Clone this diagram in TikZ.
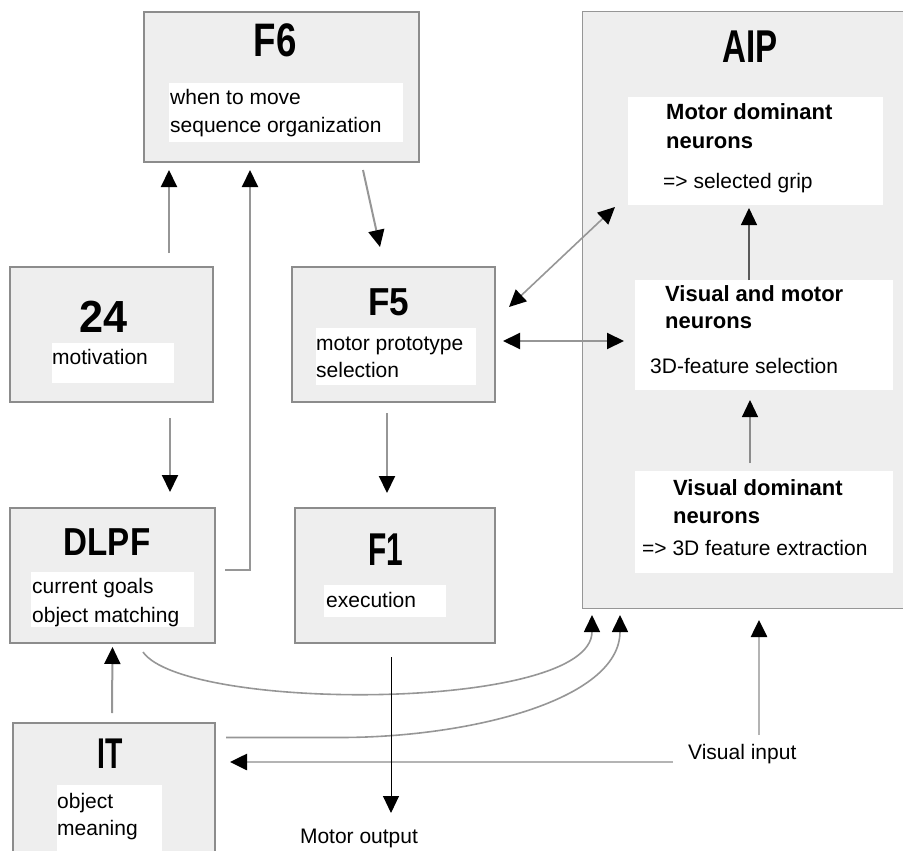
\documentclass[tikz,border=0pt]{standalone}
\usepackage{fontspec}
\setmainfont{Liberation Sans}
\usetikzlibrary{arrows.meta,calc}
\definecolor{boxfill}{RGB}{238,238,238}
\definecolor{boxline}{RGB}{140,140,140}
\definecolor{lineg}{RGB}{150,150,150}
\definecolor{lightg}{RGB}{180,180,180}
\newcommand{\ttl}[3]{\scalebox{#1}[1]{\fontsize{#2}{#2}\selectfont\bfseries #3}}
\begin{document}
\begin{tikzpicture}[x=1pt,y=-1pt,
  area/.style={draw=boxline,line width=2.5pt,fill=boxfill,inner sep=0,outer sep=0},
  aipbox/.style={draw=lineg,line width=1pt,fill=boxfill,inner sep=0,outer sep=0},
  whitebox/.style={fill=white,draw=none,inner sep=0,outer sep=0},
  txtbody/.style={anchor=base west,inner sep=0,font=\fontsize{21}{27}\selectfont},
  txtbold/.style={anchor=base west,inner sep=0,font=\fontsize{22}{28}\selectfont\bfseries},
  ttlpos/.style={anchor=base,inner sep=0},
  conn/.style={-{Triangle[width=16pt,length=17pt,color=black]},draw=lineg,line width=2pt},
  dblconn/.style={{Triangle[width=16pt,length=17pt,color=black]}-{Triangle[width=16pt,length=17pt,color=black]},draw=lineg,line width=2pt},
  innerconn/.style={-{Triangle[width=16pt,length=17pt,color=black]},draw=black!65,line width=1.2pt},
  curvec/.style={-{Triangle[width=16pt,length=17pt,color=black]},draw=lineg,line width=1.6pt},
  lightconn/.style={-{Triangle[width=16pt,length=17pt,color=black]},draw=lightg,line width=2.6pt},
  blackconn/.style={-{Triangle[width=16pt,length=17pt,color=black]},draw=black,line width=1pt}
]
\useasboundingbox (0,0) rectangle (903,851);

% main boxes
\node[aipbox,minimum width=328pt,minimum height=596pt] (aip) at (746,310) {};
\node[area,minimum width=275pt,minimum height=150pt] (f6) at (281.5,87) {};
\node[area,minimum width=203pt,minimum height=135pt] (m24) at (111.5,334.5) {};
\node[area,minimum width=203pt,minimum height=135pt] (f5) at (393.5,334.5) {};
\node[area,minimum width=205pt,minimum height=135pt] (dlpf) at (112.5,575.5) {};
\node[area,minimum width=200pt,minimum height=135pt] (f1) at (395,575.5) {};
\node[area,minimum width=202pt,minimum height=137pt] (it) at (114,791.5) {};

% white label areas
\node[whitebox,minimum width=234pt,minimum height=59pt] (f6w) at (286,112.5) {};
\node[whitebox,minimum width=122pt,minimum height=40pt] (m24w) at (113,363) {};
\node[whitebox,minimum width=160pt,minimum height=57pt] (f5w) at (396,356.5) {};
\node[whitebox,minimum width=163pt,minimum height=55pt] (dlpfw) at (112.5,599.5) {};
\node[whitebox,minimum width=105pt,minimum height=75pt] (itw) at (109.5,822.5) {};
\node[whitebox,minimum width=122pt,minimum height=32pt] (f1w) at (385,601) {};
\node[whitebox,minimum width=255pt,minimum height=108pt] (mdw) at (755.5,151) {};
\node[whitebox,minimum width=258pt,minimum height=110pt] (vmw) at (764,335) {};
\node[whitebox,minimum width=258pt,minimum height=102pt] (vdw) at (764,522) {};

% titles
\node[ttlpos] (f6t) at (275,57) {\ttl{0.78}{47}{F6}};
\node[ttlpos] (m24t) at (104,332) {\ttl{0.96}{45}{24}};
\node[ttlpos] (dlpft) at (107,555) {\ttl{0.85}{39}{DLPF}};
\node[ttlpos] (aipt) at (750,63) {\ttl{0.72}{46}{AIP}};
\node[ttlpos] (itt) at (110,768) {\ttl{0.66}{43}{IT}};
\node[ttlpos] (f5t) at (389,315) {\ttl{0.9}{39}{F5}};
\node[ttlpos] (f1t) at (386,565) {\ttl{0.65}{46}{F1}};

% body texts
\node[txtbody] (f6a) at (170,105) {when to move};
\node[txtbody] (f6b) at (170,132) {sequence organization};
\node[txtbody] (m24a) at (52,364) {motivation};
\node[txtbody] (f5a) at (316,350) {motor prototype};
\node[txtbody] (f5b) at (316,377) {selection};
\node[txtbody] (dlpfa) at (32,593) {current goals};
\node[txtbody] (dlpfb) at (32,622) {object matching};
\node[txtbody] (ita) at (57,808) {object};
\node[txtbody] (itb) at (57,835) {meaning};
\node[txtbody] (f1a) at (326,607) {execution};
\node[txtbold] (mda) at (666,120) {Motor dominant};
\node[txtbold] (mdb) at (666,148) {neurons};
\node[txtbody] (mdc) at (663,188) {=> selected grip};
\node[txtbold] (vma) at (665,301) {Visual and motor};
\node[txtbold] (vmb) at (665,328) {neurons};
\node[txtbody] (vmc) at (650,373) {3D-feature selection};
\node[txtbold] (vda) at (673,495) {Visual dominant};
\node[txtbold] (vdb) at (673,523) {neurons};
\node[txtbody] (vdc) at (642,555) {=> 3D feature extraction};
\node[anchor=base,inner sep=0,font=\fontsize{21}{27}\selectfont] (mout) at (359,843) {Motor output};
\node[txtbody] (vin) at (688,759) {Visual input};

% free ends
\coordinate (vinup) at (759,735);
\coordinate (vinleft) at (673,762);
\coordinate (motout) at (391,813);

% connectors
\draw[conn] ([yshift=14pt,xshift=57.5pt]m24.north) -- ([shift={(-112.5pt,-8pt)}]f6.south);
\draw[conn] ([shift={(10pt,5.5pt)}]dlpf.east) -| ([shift={(-31.5pt,-8pt)}]f6.south);
\draw[conn] ([shift={(81.5pt,-8pt)}]f6.south) -- ([shift={(-13.5pt,20pt)}]f5.north);
\draw[conn] ([shift={(58.5pt,-16pt)}]m24.south) -- ([shift={(57.5pt,16pt)}]dlpf.north);
\draw[conn] ([shift={(-6.5pt,-11pt)}]f5.south) -- ([shift={(-8pt,15pt)}]f1.north);
\draw[dblconn] ([shift={(8pt,-6.5pt)}]f5.east) -- ([shift={(-11pt,-6pt)}]vmw.west);
\draw[dblconn,line width=1.6pt] ([shift={(14pt,-40pt)}]f5.north east) -- ([shift={(-13pt,-2pt)}]mdw.south west);
\draw[innerconn] ([xshift=-15pt]vmw.north) -- ([shift={(-6.5pt,-3pt)}]mdw.south);
\draw[innerconn,draw=black!45] ([shift={(-14pt,8pt)}]vdw.north) -- ([shift={(-14pt,-10pt)}]vmw.south);
\draw[conn] ([shift={(-2pt,10pt)}]it.north) -- ([yshift=-4pt]dlpf.south);
\draw[curvec] ([shift={(30.5pt,-9pt)}]dlpf.south) .. controls +(42,60) and +(0,97) .. ([shift={(-154pt,-7pt)}]aip.south);
\draw[curvec] ([shift={(11pt,54pt)}]it.east) -- ++(114,0) .. controls +(130,0) and +(0,85) .. ([shift={(-126pt,-7pt)}]aip.south);
\draw[lightconn] (vinup) -- ([shift={(13pt,-12pt)}]aip.south);
\draw[lightconn] (vinleft) -- ([shift={(15pt,29.5pt)}]it.east);
\draw[blackconn] ([shift={(-4pt,-14pt)}]f1.south) -- (motout);
\end{tikzpicture}
\end{document}
